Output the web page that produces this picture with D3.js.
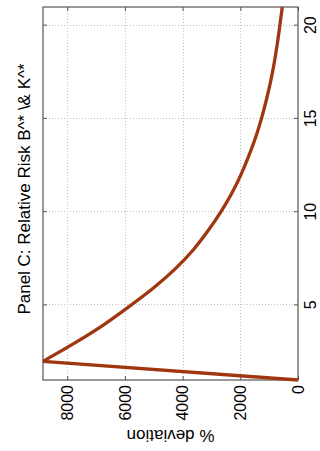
<!DOCTYPE html>
<html>
<head>
<meta charset="utf-8">
<script src="https://cdn.jsdelivr.net/npm/d3@7"></script>
<style>
  body { margin: 0; background: #fff; }
  svg { display: block; font-family: "Liberation Sans", Arial, Helvetica, sans-serif; }
</style>
</head>
<body>
<svg id="chart" width="320" height="451"></svg>
<script>
// relative risk (x) and % deviation (y)
const relRisk = [1, 2, 3, 4, 5, 6, 7, 8, 9, 10, 11, 12, 13, 14, 15, 16, 17, 18, 19, 20, 21];
const deviation = [0, 8840, 7720, 6700, 5800, 4960, 4230, 3620, 3120, 2680, 2300, 1980, 1710, 1470, 1270, 1100, 950, 825, 720, 630, 545];
const xTicks = [5, 10, 15, 20];
const yTicks = [0, 2000, 4000, 6000, 8000];
const title = "Panel C: Relative Risk B^* \\& K^*";
const yLabel = "% deviation";

const W = 451, H = 320; // the figure is drawn landscape and then turned on its side
const pL = 71, pR = 444, pT = 43, pB = 298;

const svg = d3.select("#chart");
// rotate whole figure 90deg counter-clockwise
const fig = svg.append("g").attr("transform", `translate(0, ${W}) rotate(-90)`);

const x = d3.scaleLinear().domain([1, 21]).range([pL, pR]);
const y = d3.scaleLinear().domain([0, 8840]).range([pB, pT]);

// dotted grid
const grid = fig.append("g")
  .attr("stroke", "#c4c4c4")
  .attr("stroke-width", 1)
  .attr("stroke-dasharray", "1,2");
grid.selectAll(".gx").data(xTicks).join("line")
  .attr("x1", d => Math.round(x(d)) + 0.5).attr("x2", d => Math.round(x(d)) + 0.5)
  .attr("y1", pT).attr("y2", pB);
grid.selectAll(".gy").data(yTicks.filter(d => d > 0)).join("line")
  .attr("y1", d => Math.round(y(d)) + 0.5).attr("y2", d => Math.round(y(d)) + 0.5)
  .attr("x1", pL).attr("x2", pR);

// axes, ticks pointing inward
const xAxis = d3.axisBottom(x).tickValues(xTicks).tickFormat(d3.format("d"))
  .tickSizeInner(-4).tickSizeOuter(0).tickPadding(7);
const yAxis = d3.axisLeft(y).tickValues(yTicks).tickFormat(d3.format("d"))
  .tickSizeInner(-4).tickSizeOuter(0).tickPadding(5);

const gx = fig.append("g").attr("transform", `translate(0, ${pB})`).call(xAxis);
const gy = fig.append("g").attr("transform", `translate(${pL}, 0)`).call(yAxis);
// mirrored ticks on the opposite sides
const gx2 = fig.append("g").attr("transform", `translate(0, ${pT})`)
  .call(d3.axisTop(x).tickValues(xTicks).tickSizeInner(-4).tickSizeOuter(0).tickFormat(""));
const gy2 = fig.append("g").attr("transform", `translate(${pR}, 0)`)
  .call(d3.axisRight(y).tickValues(yTicks).tickSizeInner(-4).tickSizeOuter(0).tickFormat(""));

[gx, gy, gx2, gy2].forEach(g => {
  g.select(".domain").remove();
  g.selectAll("line").attr("stroke", "#555");
  g.selectAll("text").attr("fill", "#000").style("font-size", "16px").style("font-family", "inherit");
});

// box
fig.append("rect")
  .attr("x", pL).attr("y", pT)
  .attr("width", pR - pL).attr("height", pB - pT)
  .attr("fill", "none").attr("stroke", "#555").attr("stroke-width", 1.2);

// the curve: straight rise to the peak, smooth decay after it
const pts = relRisk.map((r, i) => [r, deviation[i]]);
const straight = d3.line().x(d => x(d[0])).y(d => y(d[1]));
const smooth = d3.line().x(d => x(d[0])).y(d => y(d[1])).curve(d3.curveMonotoneX);
const curve = fig.append("g")
  .attr("fill", "none")
  .attr("stroke", "#a0360f")
  .attr("stroke-width", 3.3)
  .attr("stroke-linejoin", "round");
curve.append("path").attr("d", straight(pts.slice(0, 2)));
curve.append("path").attr("d", smooth(pts.slice(1)));

// title and axis label
fig.append("text")
  .attr("x", 262).attr("y", 30)
  .attr("text-anchor", "middle")
  .style("font-size", "17px")
  .text(title);

fig.append("text")
  .attr("transform", `translate(21, ${(pT + pB) / 2}) rotate(-90)`)
  .attr("text-anchor", "middle")
  .style("font-size", "17px")
  .text(yLabel);
</script>
</body>
</html>
